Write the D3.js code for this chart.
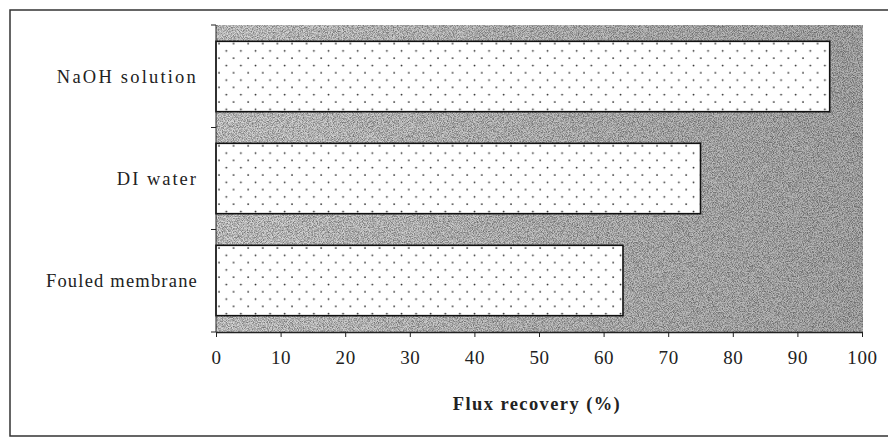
<!DOCTYPE html>
<html>
<head>
<meta charset="utf-8">
<script src="https://cdn.jsdelivr.net/npm/d3@7"></script>
<style>
  body { margin: 0; background: #fff; }
  svg { display: block; }
</style>
</head>
<body>
<div id="chart"></div>
<script>
// data
const categories = ["NaOH solution", "DI water", "Fouled membrane"];
const fluxRecovery = [95, 75, 63];
const xTicks = [0, 10, 20, 30, 40, 50, 60, 70, 80, 90, 100];
const xTitle = "Flux recovery (%)";

const svgWidth = 888;
const svgHeight = 438;
const margin = { top: 25, right: 26, bottom: 106, left: 216 };
const width = svgWidth - margin.left - margin.right;
const height = svgHeight - margin.top - margin.bottom;
const serif = "'Liberation Serif', 'Times New Roman', serif";

const svg = d3.select("#chart")
    .append("svg")
    .attr("width", svgWidth)
    .attr("height", svgHeight);

const defs = svg.append("defs");

// grainy gray of the scanned plot area
const grad = defs.append("linearGradient")
    .attr("id", "bgGrad")
    .attr("x1", "0").attr("x2", "1").attr("y1", "0").attr("y2", "0");
grad.append("stop").attr("offset", "0%").attr("stop-color", "#d6d6d6");
grad.append("stop").attr("offset", "55%").attr("stop-color", "#c2c2c2");
grad.append("stop").attr("offset", "100%").attr("stop-color", "#b4b4b4");

const noise = defs.append("filter").attr("id", "grain")
    .attr("x", 0).attr("y", 0).attr("width", "100%").attr("height", "100%");
noise.append("feTurbulence")
    .attr("type", "fractalNoise")
    .attr("baseFrequency", 1.2)
    .attr("numOctaves", 1)
    .attr("seed", 3);
noise.append("feColorMatrix")
    .attr("type", "matrix")
    .attr("values", "0 0 0 0 0  0 0 0 0 0  0 0 0 0 0  0 0 0 -2.5 1.6");

// dotted fill of the bars
const dots = defs.append("pattern")
    .attr("id", "dots")
    .attr("patternUnits", "userSpaceOnUse")
    .attr("width", 14.6).attr("height", 14.6);
dots.append("rect").attr("width", 14.6).attr("height", 14.6).attr("fill", "#fff");
dots.append("circle").attr("cx", 3).attr("cy", 4).attr("r", 0.9).attr("fill", "#222");
dots.append("circle").attr("cx", 10.3).attr("cy", 11.3).attr("r", 0.9).attr("fill", "#222");

// outer frame (right side runs off the picture)
svg.append("path")
    .attr("d", "M 892 10 L 10 10 L 10 436 L 892 436")
    .attr("fill", "none")
    .attr("stroke", "#333")
    .attr("stroke-width", 1.5);

const g = svg.append("g")
    .attr("transform", `translate(${margin.left}, ${margin.top})`);

// scales
const xScale = d3.scaleLinear()
    .domain([0, 100])
    .range([0, width]);

const yScale = d3.scaleBand()
    .domain(categories)
    .range([0, height])
    .paddingInner(0.31)
    .paddingOuter(0.16);

// plot area background
g.append("rect")
    .attr("x", 0).attr("y", 0)
    .attr("width", xScale(100) + 1).attr("height", height)
    .attr("fill", "url(#bgGrad)");
g.append("rect")
    .attr("x", 0).attr("y", 0)
    .attr("width", xScale(100) + 1).attr("height", height)
    .attr("fill", "#3a3a3a")
    .attr("filter", "url(#grain)")
    .attr("opacity", 0.45);

// bars
g.selectAll("rect.bar")
    .data(categories)
    .enter()
    .append("rect")
    .attr("class", "bar")
    .attr("x", xScale(0))
    .attr("y", d => yScale(d))
    .attr("width", (d, i) => xScale(fluxRecovery[i]) - xScale(0))
    .attr("height", yScale.bandwidth())
    .attr("fill", "url(#dots)")
    .attr("stroke", "#111")
    .attr("stroke-width", 1.6);

// x axis
const xAxis = g.append("g")
    .attr("transform", `translate(0, ${height})`)
    .call(d3.axisBottom(xScale).tickValues(xTicks).tickSize(5).tickPadding(14).tickSizeOuter(0));
xAxis.select(".domain").attr("stroke", "#222").attr("stroke-width", 1.3);
xAxis.selectAll(".tick line").attr("stroke", "#222");
xAxis.selectAll("text")
    .attr("font-family", serif)
    .attr("font-size", 19)
    .attr("letter-spacing", 0.6)
    .attr("fill", "#222");

// y axis: ticks on the category boundaries
const yAxisG = g.append("g");
yAxisG.append("line")
    .attr("x1", 0).attr("x2", 0)
    .attr("y1", 0).attr("y2", height)
    .attr("stroke", "#222").attr("stroke-width", 1);
const boundaries = [0, ...categories.slice(1).map(c => yScale(c) - yScale.step() * yScale.paddingInner() / 2), height];
yAxisG.selectAll("line.tick")
    .data(boundaries)
    .enter()
    .append("line")
    .attr("class", "tick")
    .attr("x1", -5).attr("x2", 0)
    .attr("y1", d => d).attr("y2", d => d)
    .attr("stroke", "#222");

const labelSpacing = { "NaOH solution": 2.2, "DI water": 2.0, "Fouled membrane": 1.2 };
yAxisG.selectAll("text")
    .data(categories)
    .enter()
    .append("text")
    .attr("x", -18)
    .attr("y", d => yScale(d) + yScale.bandwidth() / 2)
    .attr("dy", "0.35em")
    .attr("text-anchor", "end")
    .attr("font-family", serif)
    .attr("font-size", 18.5)
    .attr("letter-spacing", d => labelSpacing[d])
    .attr("fill", "#222")
    .text(d => d);

// x axis title
g.append("text")
    .attr("x", xScale(50) - 2)
    .attr("y", height + 78)
    .attr("text-anchor", "middle")
    .attr("font-family", serif)
    .attr("font-weight", "bold")
    .attr("font-size", 18.5)
    .attr("letter-spacing", 1.4)
    .attr("fill", "#222")
    .text(xTitle);
</script>
</body>
</html>
